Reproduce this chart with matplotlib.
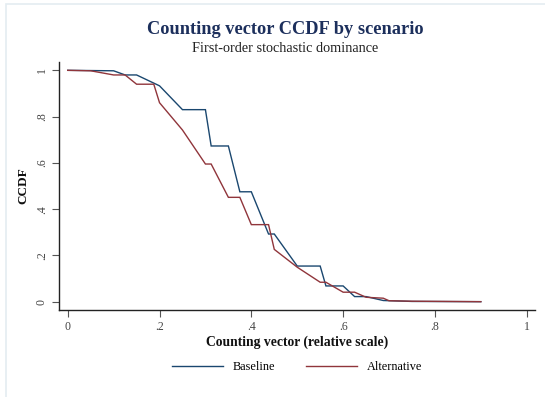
import matplotlib
matplotlib.use("Agg")
import matplotlib.pyplot as plt
from matplotlib.lines import Line2D
from matplotlib.patches import Rectangle

plt.rcParams['font.family'] = ['Liberation Serif', 'DejaVu Serif']

# Counting vector (relative scale) and CCDF values per scenario
baseline_x = [0.0, 0.1, 0.125, 0.15, 0.2, 0.25, 0.3, 0.3125, 0.35, 0.375, 0.4,
              0.4375, 0.45, 0.5, 0.55, 0.5625, 0.6, 0.625, 0.65, 0.6875, 0.75, 0.9]
baseline_y = [1.0, 0.998, 0.98, 0.98, 0.933, 0.83, 0.83, 0.673, 0.673, 0.475, 0.475,
              0.2925, 0.2925, 0.154, 0.154, 0.068, 0.068, 0.022, 0.022, 0.005, 0.001, 0.0]

alternative_x = [0.0, 0.05, 0.1, 0.125, 0.15, 0.1875, 0.2, 0.25, 0.3, 0.3125, 0.35,
                 0.375, 0.4, 0.4375, 0.45, 0.5, 0.55, 0.5625, 0.6, 0.625, 0.65,
                 0.6875, 0.7, 0.75, 0.9]
alternative_y = [1.0, 0.998, 0.98, 0.98, 0.94, 0.94, 0.86, 0.742, 0.595, 0.595, 0.451,
                 0.451, 0.333, 0.333, 0.226, 0.149, 0.084, 0.084, 0.041, 0.041, 0.019,
                 0.015, 0.004, 0.002, 0.0]

x_ticks = [0, 0.2, 0.4, 0.6, 0.8, 1.0]
x_tick_labels = ["0", ".2", ".4", ".6", ".8", "1"]
y_ticks = [0, 0.2, 0.4, 0.6, 0.8, 1.0]
y_tick_labels = ["0", ".2", ".4", ".6", ".8", "1"]

NAVY = "#1a476f"
MAROON = "#90353b"

W, H = 545, 397
fig = plt.figure(figsize=(W / 100, H / 100), dpi=100)
fig.patch.set_facecolor("white")

# light frame around the graph region
fig.add_artist(Rectangle((5.5 / W, -0.1), 1.2, (H - 4.5) / H + 0.1,
                         transform=fig.transFigure, fill=False,
                         edgecolor="#e4ecf1", linewidth=1.2))

left, right, bottom, top = 59, 535, 310, 62
ax = fig.add_axes([left / W, 1 - bottom / H, (right - left) / W, (bottom - top) / H])

ax.plot(baseline_x, baseline_y, color=NAVY, lw=1.0, solid_joinstyle="miter")
ax.plot(alternative_x, alternative_y, color=MAROON, lw=1.0, solid_joinstyle="miter")

ax.set_xlim(-0.019, 1.018)
ax.set_ylim(-0.036, 1.036)
ax.set_xticks(x_ticks)
ax.set_xticklabels(x_tick_labels)
ax.set_yticks(y_ticks)
ax.set_yticklabels(y_tick_labels, rotation=90, va="center")

for s in ("top", "right"):
    ax.spines[s].set_visible(False)
for s in ("left", "bottom"):
    ax.spines[s].set_linewidth(1.0)
    ax.spines[s].set_color("#222222")

ax.tick_params(axis="both", direction="out", length=5, width=0.8, color="#555555",
               labelsize=8.5, labelcolor="#444444", pad=3)

ax.set_xlabel("Counting vector (relative scale)", fontsize=9.8, fontweight="bold",
              color="#111111", labelpad=2)
ax.set_ylabel("CCDF", fontsize=9.5, fontweight="bold", color="#111111", labelpad=5)

fig.text(285 / W, 1 - 29 / H, "Counting vector CCDF by scenario", ha="center", va="center",
         fontsize=13.2, fontweight="bold", color="#1c2f5c")
fig.text(285 / W, 1 - 49 / H, "First-order stochastic dominance", ha="center", va="center",
         fontsize=10.3, color="#222222")

handles = [Line2D([], [], color=NAVY, lw=1.0), Line2D([], [], color=MAROON, lw=1.0)]
fig.legend(handles, ["Baseline", "Alternative"], loc="center", ncol=2,
           bbox_to_anchor=(297 / W, 1 - 367 / H), frameon=False, fontsize=8.8,
           handlelength=4.2, columnspacing=2.5, handletextpad=0.8)

fig.savefig("out.png", dpi=100, facecolor="white")
